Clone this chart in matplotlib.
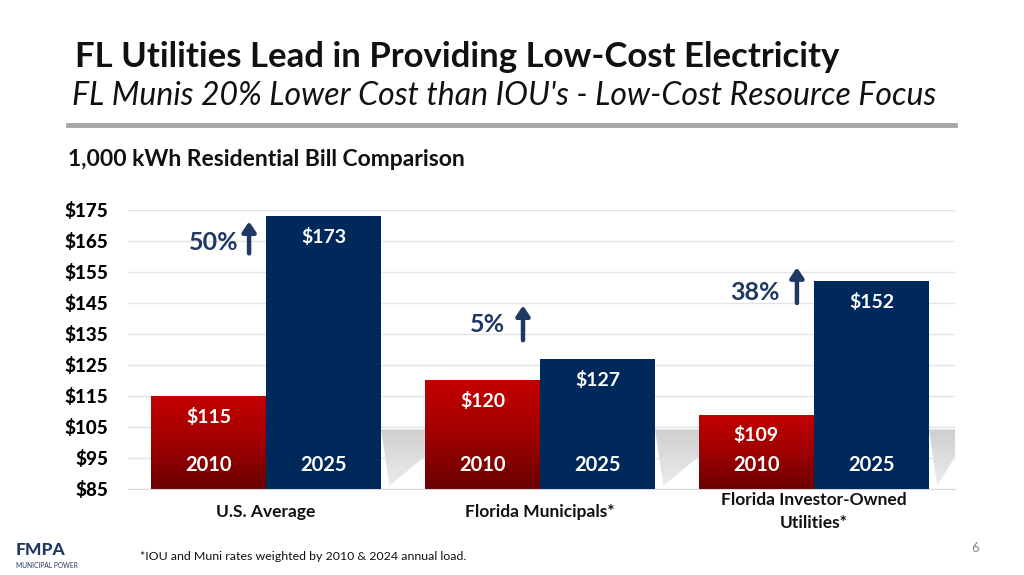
import matplotlib
matplotlib.use("Agg")
import matplotlib.pyplot as plt
import numpy as np
from matplotlib.patches import Polygon
from matplotlib.colors import LinearSegmentedColormap

plt.rcParams['font.family'] = ['Lato', 'DejaVu Sans']

categories = ["U.S. Average", "Florida Municipals*", "Florida Investor-Owned\nUtilities*"]
years = ["2010", "2025"]
vals_2010 = [115, 120, 109]
vals_2025 = [173, 127, 152]
pct_labels = ["50%", "5%", "38%"]
yticks = [85, 95, 105, 115, 125, 135, 145, 155, 165, 175]

RED_TOP = "#c40000"
RED_BOT = "#6b0000"
BLUE = "#00295b"
NAVY_TXT = "#1f3864"

fig = plt.figure(figsize=(10.24, 5.75), dpi=100)
ax = fig.add_axes([0.125, 0.1496, 0.8076, 0.4852])
XL = (-0.504, 2.515)
ax.set_xlim(*XL)
ax.set_ylim(85, 175)

x = np.arange(len(categories))
w = 0.42

# floor shadow behind bars
shade = LinearSegmentedColormap.from_list("sh", ["#ececec", "#cfcfcf"])
g = np.linspace(0, 1, 128).reshape(-1, 1)
for i in range(len(categories)):
    xl = x[i] + w
    xr = x[i + 1] - w if i + 1 < len(categories) else XL[1]
    poly = Polygon([(xl, 104.2), (xr, 104.2), (xr, 95.5), (xl + 0.03, 86)],
                   closed=True, facecolor="none", edgecolor="none", zorder=1)
    ax.add_patch(poly)
    im = ax.imshow(g, extent=[xl, xr, 86, 104.2], origin="lower", cmap=shade,
                   aspect="auto", zorder=1)
    im.set_clip_path(poly)

ax.set_yticks(yticks)
ax.set_yticklabels([f"${v}" for v in yticks], fontsize=13.5, fontweight="black")
ax.yaxis.grid(True, color="#e3e3e3", linewidth=1.0, zorder=0)
ax.set_axisbelow(True)
ax.tick_params(axis="y", length=0, pad=14)
for s in ["top", "right", "left"]:
    ax.spines[s].set_visible(False)
ax.spines["bottom"].set_color("#d9d9d9")

# red gradient bars
grad = np.linspace(0, 1, 256).reshape(-1, 1)
cmap = LinearSegmentedColormap.from_list("rg", [RED_BOT, "#a00000", RED_TOP])
bars10 = ax.bar(x - w / 2, vals_2010, w, color=RED_TOP, zorder=2)
for b in bars10:
    b.set_facecolor("none")
    x0 = b.get_x()
    im = ax.imshow(grad, extent=[x0, x0 + b.get_width(), 85, b.get_height()],
                   origin="lower", cmap=cmap, aspect="auto", zorder=2)
    im.set_clip_path(b)
bars25 = ax.bar(x + w / 2, vals_2025, w, color=BLUE, zorder=3)
ax.set_xlim(*XL)
ax.set_ylim(85, 175)

for bars, vals in ((bars10, vals_2010), (bars25, vals_2025)):
    for b, v in zip(bars, vals):
        cx = b.get_x() + b.get_width() / 2
        ax.annotate(f"${v}", (cx, v), xytext=(0, -15), textcoords="offset points",
                    ha="center", va="center", color="white", fontsize=14,
                    fontweight="bold", zorder=5)
for i in range(len(categories)):
    for j, yr in enumerate(years):
        cx = x[i] + (j - 0.5) * w
        ax.text(cx, 92.7, yr, ha="center", va="center", color="white",
                fontsize=14.5, fontweight="bold", zorder=5)

# percent-change annotations
pct_text_y = [164.4, 137.9, 148.5]
arrow_y0 = [161.0, 133.0, 145.0]
arrow_y1 = [171.3, 144.2, 156.5]
text_dx = [-0.19, -0.19, -0.215]
for i, lab in enumerate(pct_labels):
    ax.text(x[i] + text_dx[i], pct_text_y[i], lab, ha="center", va="center",
            color=NAVY_TXT, fontsize=18, fontweight="bold", zorder=5)
    ax.annotate("", xy=(x[i] - 0.062, arrow_y1[i]), xytext=(x[i] - 0.062, arrow_y0[i]),
                arrowprops=dict(arrowstyle="-|>,head_width=0.4,head_length=0.6",
                                color=NAVY_TXT, lw=3.2, shrinkA=0, shrinkB=0), zorder=5)

ax.set_xticks(x)
ax.set_xticklabels([])
ax.tick_params(axis="x", length=0)
for i, c in enumerate(categories):
    ax.text(x[i], -0.082, c, transform=ax.get_xaxis_transform(), ha="center",
            va="center", fontsize=12.5, fontweight="bold", linespacing=1.55,
            color="#111111")

# titles
fig.text(75 / 1024, 1 - 57 / 575, "FL Utilities Lead in Providing Low-Cost Electricity",
         fontsize=25, fontweight="bold", ha="left", va="center", color="#111111")
fig.text(72 / 1024, 1 - 96 / 575, "FL Munis 20% Lower Cost than IOU's - Low-Cost Resource Focus",
         fontsize=23, fontstyle="italic", ha="left", va="center", color="#111111")
fig.add_artist(plt.Line2D([68 / 1024, 955 / 1024], [1 - 125 / 575] * 2,
                          color="#a6a6a6", lw=3.5, transform=fig.transFigure))
fig.text(68 / 1024, 1 - 160 / 575, "1,000 kWh Residential Bill Comparison",
         fontsize=16.5, fontweight="bold", ha="left", va="center", color="#111111")

fig.text(140 / 1024, 1 - 556 / 575, "*IOU and Muni rates weighted by 2010 & 2024 annual load.",
         fontsize=8.9, ha="left", va="center", color="#111111")
fig.text(975 / 1024, 1 - 548 / 575, "6", fontsize=9.5, ha="center", va="center", color="#888888")

# logo
fig.text(16 / 1024, 1 - 550 / 575, "FMPA", fontsize=12.5, fontweight="black",
         ha="left", va="center", color="#1f3864")
fig.text(16 / 1024, 1 - 565 / 575, "MUNICIPAL POWER", fontsize=4.8,
         ha="left", va="center", color="#1f3864")

fig.savefig("out.png", dpi=100)
